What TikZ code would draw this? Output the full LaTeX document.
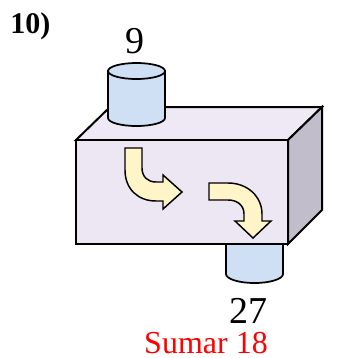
\documentclass[tikz,border=0pt]{standalone}
\usepackage{fontspec}
\setmainfont{Liberation Serif}
\usepackage{tikz}
\definecolor{frontcol}{RGB}{237,231,243}
\definecolor{sidecol}{RGB}{193,189,202}
\definecolor{topcol}{RGB}{238,233,244}
\definecolor{tankcol}{RGB}{207,224,244}
\definecolor{flowcol}{RGB}{255,245,200}
\begin{document}
\begin{tikzpicture}
		[x=0.75pt,y=0.75pt,
		face/.style={draw=black,line width=1.5pt,line join=miter},
		tank/.style={draw=black,fill=tankcol,line width=1.3pt},
		flow/.style={draw=black,fill=flowcol,line width=1.1pt,line join=miter},
		num/.style={anchor=base,inner sep=0pt,font=\fontsize{28.5}{30}\selectfont},]
		\useasboundingbox (0,0) rectangle (337,-358);
		
		% outlet tank under the box
		\fill[tankcol] (226,-238) -- (226,-274) arc[start angle=180,end angle=360,x radius=28.5,y radius=9] -- (283,-238) -- cycle;
		\draw[tank,fill=none] (226,-238) -- (226,-274) arc[start angle=180,end angle=360,x radius=28.5,y radius=9] -- (283,-238);
		
		% box
		\draw[face,fill=topcol] (76,-140) -- (110,-107) -- (322,-107) -- (288,-140) -- cycle;
		\draw[face,fill=sidecol] (288,-140) -- (322,-107) -- (322,-210) -- (288,-244) -- cycle;
		\draw[face,fill=frontcol] (76,-140) rectangle (288,-244);
		
		% inlet tank on top
		\draw[tank] (108,-71) -- (108,-118) arc[start angle=180,end angle=360,x radius=28.5,y radius=8] -- (165,-71) -- cycle;
		\draw[tank] (136.5,-71) ellipse[x radius=28.5,y radius=8];
		
		% flow arrows
		\draw[flow] (125,-148) -- (142,-148) -- (142,-168) .. controls (142,-177) and (148,-182) .. (156,-182)
			-- (163,-182) -- (163,-175) -- (182,-192) -- (163,-209) -- (163,-201) -- (156,-201)
			.. controls (138,-201) and (125,-189) .. (125,-170) -- cycle;
		\draw[flow] (209,-183) -- (228,-183) .. controls (248,-183) and (262,-197) .. (262,-214)
			-- (262,-221) -- (271,-221) -- (253,-238) -- (235,-221) -- (244,-221) -- (244,-214)
			.. controls (244,-205) and (237,-200) .. (228,-200) -- (209,-200) -- cycle;
		
		\node[anchor=base west,inner sep=0pt,font=\fontsize{22.5}{24}\selectfont\bfseries] (nr) at (10,-33) {10)};
		\node[num] (inflow) at (135.5,-53) {9};
		\node[num] (outflow) at (248.5,-323) {27};
		\node[anchor=base,inner sep=0pt,text=red,font=\fontsize{24}{26}\selectfont] (sum) at (206,-353) {Sumar 18};
		
	\end{tikzpicture}
\end{document}
